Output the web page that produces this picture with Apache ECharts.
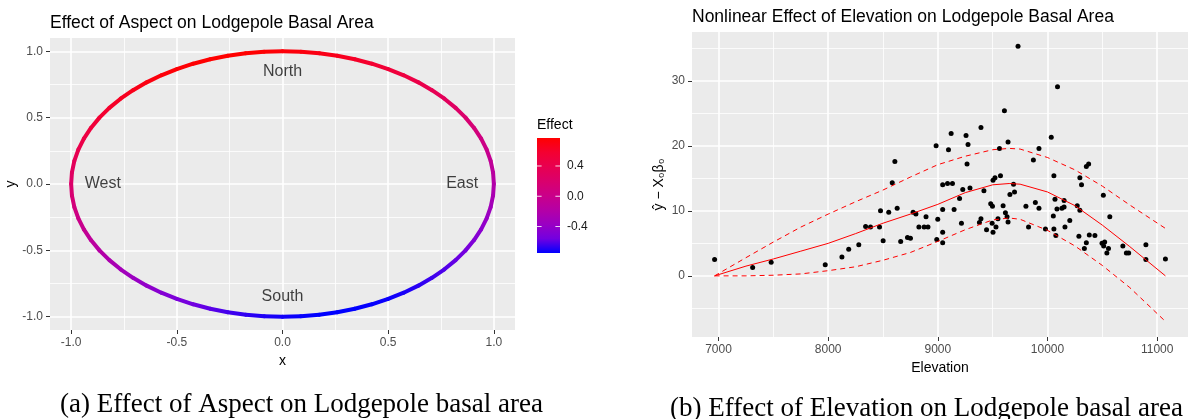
<!DOCTYPE html>
<html>
<head>
<meta charset="utf-8">
<title>Lodgepole basal area: aspect and elevation effects</title>
<script src="https://cdn.jsdelivr.net/npm/echarts@6/dist/echarts.min.js"></script>
<style>
  html, body { margin: 0; padding: 0; background: #ffffff; }
  #main { width: 1188px; height: 419px; }
</style>
</head>
<body>
<div id="main"></div>
<script>
var aspectDeg = [0, 5, 10, 15, 20, 25, 30, 35, 40, 45, 50, 55, 60, 65, 70, 75, 80, 85, 90,
  95, 100, 105, 110, 115, 120, 125, 130, 135, 140, 145, 150, 155, 160, 165, 170, 175, 180,
  185, 190, 195, 200, 205, 210, 215, 220, 225, 230, 235, 240, 245, 250, 255, 260, 265, 270,
  275, 280, 285, 290, 295, 300, 305, 310, 315, 320, 325, 330, 335, 340, 345, 350, 355, 360];
var aspectEffect = [0.74, 0.72, 0.69, 0.66, 0.62, 0.58, 0.54, 0.49, 0.43, 0.38, 0.32, 0.26, 0.19,
  0.13, 0.06, 0.00, -0.07, -0.14, -0.20, -0.26, -0.32, -0.38, -0.44, -0.49, -0.54, -0.58, -0.62,
  -0.65, -0.68, -0.71, -0.73, -0.74, -0.75, -0.75, -0.75, -0.74, -0.72, -0.70, -0.67, -0.64, -0.60,
  -0.56, -0.52, -0.47, -0.41, -0.36, -0.30, -0.24, -0.17, -0.11, -0.04, 0.02, 0.09, 0.16, 0.22,
  0.28, 0.34, 0.40, 0.46, 0.51, 0.56, 0.60, 0.64, 0.67, 0.70, 0.73, 0.75, 0.76, 0.77, 0.77, 0.77,
  0.76, 0.74];
var compassNames = ["North", "South", "West", "East"];
var compassX = [0, 0, -0.85, 0.85];
var compassY = [0.85, -0.85, 0, 0];
var unitTicks = [-1, -0.5, 0, 0.5, 1];
var unitMinor = [-0.75, -0.25, 0.25, 0.75];
var effectTicks = [0.4, 0, -0.4];

// (b) elevation: partial residuals and the fitted smooth with its band
var elevation = [6964, 7311, 7480, 7973, 8125, 8187, 8279, 8341, 8386, 8468, 8477, 8501, 8552, 8584,
  8608, 8629, 8661, 8723, 8750, 8774, 8800, 8827, 8875, 8892, 8910, 8984, 8990, 8999, 9044, 9044,
  9044, 9044, 9088, 9097, 9121, 9133, 9148, 9198, 9215, 9227, 9257, 9266, 9275, 9293, 9379, 9393,
  9393, 9420, 9444, 9482, 9495, 9498, 9503, 9503, 9521, 9530, 9548, 9562, 9571, 9595, 9607, 9616,
  9631, 9640, 9640, 9657, 9690, 9699, 9731, 9803, 9827, 9871, 9889, 9922, 9922, 9981, 10034, 10053,
  10058, 10058, 10068, 10076, 10086, 10091, 10131, 10151, 10151, 10159, 10203, 10271, 10286, 10295,
  10295, 10310, 10336, 10354, 10354, 10375, 10381, 10432, 10497, 10509, 10512, 10521, 10541, 10556,
  10568, 10687, 10719, 10740, 10897, 10897, 11075];
var partialResid = [2.5, 1.3, 2.1, 1.7, 2.9, 4.1, 4.8, 7.6, 7.5, 7.5, 10.0, 5.4, 9.8, 14.3,
  17.6, 10.4, 5.3, 5.9, 5.8, 9.8, 9.5, 7.5, 7.5, 9.1, 7.5, 20.0, 5.6, 8.7, 14.0, 10.2,
  6.7, 5.1, 14.2, 19.4, 21.9, 14.2, 10.2, 11.9, 8.1, 13.3, 21.6, 17.2, 20.2, 13.5, 8.2, 8.8,
  22.8, 13.1, 7.1, 11.1, 8.1, 10.7, 14.7, 6.7, 15.1, 7.5, 8.8, 19.6, 15.4, 10.8, 25.4, 9.7,
  9.1, 8.3, 20.6, 12.5, 14.1, 12.9, 35.3, 10.7, 7.5, 17.8, 11.3, 10.4, 19.6, 7.2, 21.3, 9.2,
  15.4, 7.2, 11.8, 6.2, 10.3, 29.1, 10.4, 10.6, 11.6, 7.5, 8.5, 10.8, 6.1, 15.1,
  10.1, 14.0, 4.2, 5.1, 16.8, 17.2, 6.3, 6.2, 5.0, 12.4, 4.6, 5.2, 3.5, 4.2,
  9.1, 4.6, 3.5, 3.5, 4.8, 2.5, 2.6];
var curveElev = [6964, 7250, 7500, 7750, 8000, 8250, 8500, 8750, 9000, 9250, 9500, 9650, 9750,
  10000, 10250, 10500, 10750, 11075];
var fitMean = [0, 1.5, 2.6, 3.8, 5.0, 6.5, 8.1, 9.5, 11.0, 12.8, 14.0, 14.2, 14.1, 12.9, 10.8, 7.8, 4.5, 0.0];
var fitUpper = [0, 2.8, 5.2, 7.5, 9.5, 11.4, 13.2, 15.2, 17.1, 18.4, 19.4, 19.6, 19.5, 18.2, 16.3, 13.8, 10.9, 7.3];
var fitLower = [0, 0.0, 0.1, 0.3, 0.8, 1.4, 2.4, 3.6, 5.3, 7.1, 8.6, 8.9, 8.7, 7.0, 4.6, 1.6, -1.8, -7.0];
var elevTicks = [7000, 8000, 9000, 10000, 11000];
var elevMinor = [7500, 8500, 9500, 10500];
var residTicks = [0, 10, 20, 30];
var residMinor = [-5, 5, 15, 25, 35];

var FONT = "Liberation Sans, Arial, sans-serif";
// blue -> red, sampled from a Lab blend like ggplot's default gradient
var effectColors = ["#0000FF", "#7300E0", "#9A00C3", "#B500A5", "#CA0089", "#DA006C", "#E80050", "#F40031", "#FF0000"];
var eMin = Math.min.apply(null, aspectEffect);
var eMax = Math.max.apply(null, aspectEffect);

function hexRgb(h) {
  return [parseInt(h.substr(1, 2), 16), parseInt(h.substr(3, 2), 16), parseInt(h.substr(5, 2), 16)];
}
function colorAt(v) {
  var t = (v - eMin) / (eMax - eMin) * (effectColors.length - 1);
  var i = Math.max(0, Math.min(effectColors.length - 2, Math.floor(t)));
  var f = t - i;
  var a = hexRgb(effectColors[i]), b = hexRgb(effectColors[i + 1]);
  return "rgb(" + Math.round(a[0] + (b[0] - a[0]) * f) + "," + Math.round(a[1] + (b[1] - a[1]) * f) + "," +
    Math.round(a[2] + (b[2] - a[2]) * f) + ")";
}

// compass angle -> point on the unit circle (x east, y north)
var ringSegs = [];
for (var i = 0; i < aspectDeg.length - 1; i++) {
  var a0 = aspectDeg[i] * Math.PI / 180, a1 = aspectDeg[i + 1] * Math.PI / 180;
  ringSegs.push([Math.sin(a0), Math.cos(a0), Math.sin(a1), Math.cos(a1), aspectEffect[i], aspectEffect[i + 1]]);
}

function zip(xs, ys) {
  return xs.map(function (x, k) { return [x, ys[k]]; });
}

function valueAxis(gridIndex, min, max, ticks, fmt, name, nameGap) {
  return {
    type: "value", gridIndex: gridIndex, min: min, max: max,
    name: name, nameLocation: "middle", nameGap: nameGap,
    nameTextStyle: { color: "#000000", fontSize: 14, fontFamily: FONT },
    axisLine: { show: false, onZero: false },
    axisTick: { show: true, customValues: ticks, length: 4, lineStyle: { color: "#333333", width: 1 } },
    axisLabel: { customValues: ticks, formatter: fmt, margin: 7, color: "#4D4D4D", fontSize: 12, fontFamily: FONT },
    splitLine: { show: false }
  };
}
function oneDecimal(v) { return v.toFixed(1); }
function plain(v) { return String(v); }

// white panel grid (major + minor breaks) as mark lines on an empty series
function panelGrid(axisIndex, xMajor, xMinor, yMajor, yMinor) {
  var minorStyle = { lineStyle: { width: 0.8 } };
  var lines = []
    .concat(xMinor.map(function (v) { return Object.assign({ xAxis: v }, minorStyle); }))
    .concat(yMinor.map(function (v) { return Object.assign({ yAxis: v }, minorStyle); }))
    .concat(xMajor.map(function (v) { return { xAxis: v }; }))
    .concat(yMajor.map(function (v) { return { yAxis: v }; }));
  return {
    type: "line", xAxisIndex: axisIndex, yAxisIndex: axisIndex, data: [], silent: true, z: 1,
    markLine: {
      silent: true, z: 1, symbol: ["none", "none"], precision: 4,
      label: { show: false },
      emphasis: { disabled: true },
      lineStyle: { color: "#FFFFFF", type: "solid", width: 1.6, opacity: 1 },
      data: lines
    }
  };
}

// colour bar legend
var barLeft = 537, barTop = 138, barW = 23, barH = 115;
function barY(v) { return barTop + (eMax - v) / (eMax - eMin) * barH; }
var legendParts = [
  { type: "text", x: 537, y: 125, style: { text: "Effect", fontSize: 14, fontFamily: FONT, fill: "#000000", verticalAlign: "middle" } },
  {
    type: "rect", shape: { x: barLeft, y: barTop, width: barW, height: barH },
    style: {
      fill: new echarts.graphic.LinearGradient(0, 1, 0, 0, effectColors.map(function (c, k) {
        return { offset: k / (effectColors.length - 1), color: c };
      }))
    }
  }
];
effectTicks.forEach(function (v) {
  var yy = barY(v);
  legendParts.push({ type: "line", shape: { x1: barLeft, y1: yy, x2: barLeft + 4.6, y2: yy }, style: { stroke: "rgba(255,255,255,0.85)", lineWidth: 1 } });
  legendParts.push({ type: "line", shape: { x1: barLeft + barW - 4.6, y1: yy, x2: barLeft + barW, y2: yy }, style: { stroke: "rgba(255,255,255,0.85)", lineWidth: 1 } });
  legendParts.push({ type: "text", x: 567, y: yy, style: { text: v.toFixed(1), fontSize: 12, fontFamily: FONT, fill: "#1A1A1A", verticalAlign: "middle" } });
});

var chart = echarts.init(document.getElementById("main"));
chart.setOption({
  animation: false,
  backgroundColor: "#FFFFFF",
  title: [
    { text: "Effect of Aspect on Lodgepole Basal Area", left: 50, top: 14, padding: 0,
      textStyle: { fontSize: 17.5, fontWeight: "normal", color: "#000000", fontFamily: FONT } },
    { text: "Nonlinear Effect of Elevation on Lodgepole Basal Area", left: 692, top: 8, padding: 0,
      textStyle: { fontSize: 17.5, fontWeight: "normal", color: "#000000", fontFamily: FONT } },
    { text: "(a) Effect of Aspect on Lodgepole basal area", left: 60, top: 391, padding: 0,
      textStyle: { fontSize: 27, fontWeight: "normal", color: "#000000", fontFamily: "Liberation Serif, serif" } },
    { text: "(b) Effect of Elevation on Lodgepole basal area", left: 670, top: 395, padding: 0,
      textStyle: { fontSize: 27, fontWeight: "normal", color: "#000000", fontFamily: "Liberation Serif, serif" } }
  ],
  graphic: legendParts,
  grid: [
    { left: 50, top: 38, width: 465, height: 292, show: true, backgroundColor: "#EBEBEB", borderWidth: 0, z: 0 },
    { left: 692, top: 32, width: 508, height: 305, show: true, backgroundColor: "#EBEBEB", borderWidth: 0, z: 0 }
  ],
  xAxis: [
    valueAxis(0, -1.1, 1.1, unitTicks, oneDecimal, "x", 21),
    valueAxis(1, 6758, 11281, elevTicks, plain, "Elevation", 22)
  ],
  yAxis: [
    valueAxis(0, -1.1, 1.1, unitTicks, oneDecimal, "y", 25),
    valueAxis(1, -9.4, 37.5, residTicks, plain, "\u0177 \u2212 X\u2080\u03B2\u2080", 26)
  ],
  series: [
    panelGrid(0, unitTicks, unitMinor, unitTicks, unitMinor),
    panelGrid(1, elevTicks, elevMinor, residTicks, residMinor),
    {
      type: "custom", xAxisIndex: 0, yAxisIndex: 0, z: 3, silent: true,
      encode: { x: [0, 2], y: [1, 3] },
      data: ringSegs,
      renderItem: function (params, api) {
        var p0 = api.coord([api.value(0), api.value(1)]);
        var p1 = api.coord([api.value(2), api.value(3)]);
        return {
          type: "line",
          shape: { x1: p0[0], y1: p0[1], x2: p1[0], y2: p1[1] },
          style: {
            stroke: new echarts.graphic.LinearGradient(p0[0], p0[1], p1[0], p1[1], [
              { offset: 0, color: colorAt(api.value(4)) },
              { offset: 1, color: colorAt(api.value(5)) }
            ], true),
            lineWidth: 4,
            lineCap: "round"
          }
        };
      }
    },
    {
      type: "scatter", xAxisIndex: 0, yAxisIndex: 0, symbolSize: 0, silent: true, z: 4,
      data: compassNames.map(function (n, k) { return { name: n, value: [compassX[k], compassY[k]] }; }),
      label: { show: true, position: "inside", formatter: "{b}", color: "#111111", fontSize: 16, fontFamily: FONT }
    },
    {
      type: "scatter", xAxisIndex: 1, yAxisIndex: 1, symbolSize: 5, silent: true, z: 3,
      itemStyle: { color: "#000000", opacity: 1 },
      data: zip(elevation, partialResid)
    },
    {
      type: "line", xAxisIndex: 1, yAxisIndex: 1, symbol: "none", silent: true, z: 4,
      lineStyle: { color: "#FF0000", width: 1 },
      data: zip(curveElev, fitMean)
    },
    {
      type: "line", xAxisIndex: 1, yAxisIndex: 1, symbol: "none", silent: true, z: 4,
      lineStyle: { color: "#FF0000", width: 1, type: [5, 4] },
      data: zip(curveElev, fitUpper)
    },
    {
      type: "line", xAxisIndex: 1, yAxisIndex: 1, symbol: "none", silent: true, z: 4,
      lineStyle: { color: "#FF0000", width: 1, type: [5, 4] },
      data: zip(curveElev, fitLower)
    }
  ]
});
</script>
</body>
</html>
